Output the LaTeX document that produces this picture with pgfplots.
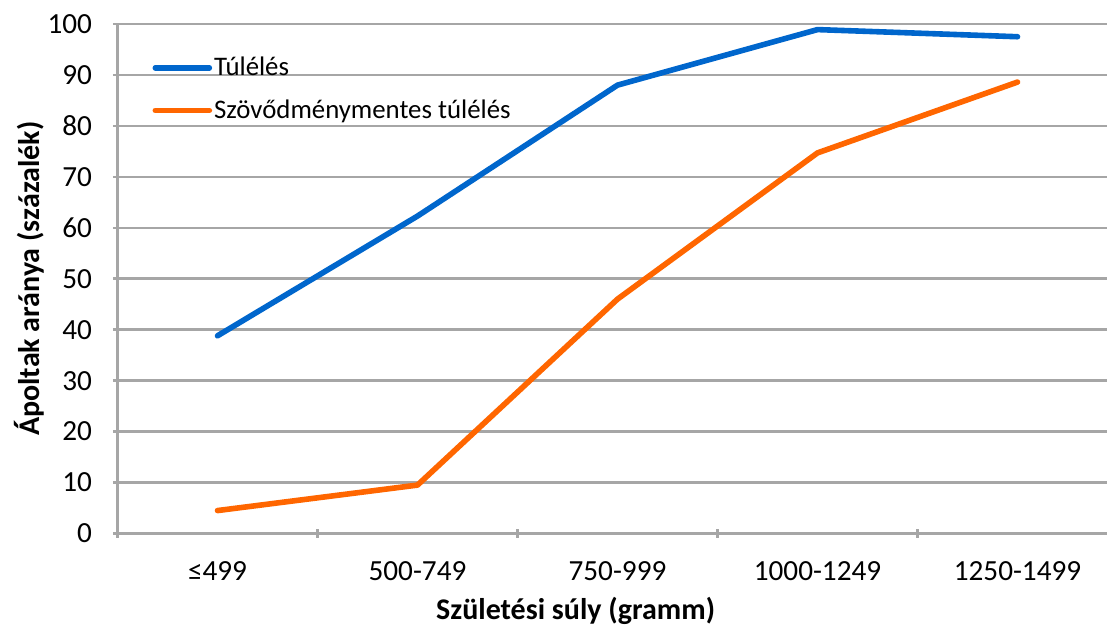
\documentclass[border=0pt]{standalone}
\usepackage{pgfplots}
\pgfplotsset{compat=1.18}
\usepackage{fontspec}
\setmainfont{Carlito}
\definecolor{cblue}{RGB}{0,102,204}
\definecolor{corange}{RGB}{255,102,0}
\definecolor{cgrid}{RGB}{166,166,166}
\begin{document}
\begin{tikzpicture}
\begin{axis}[
  scale only axis, width=494.75pt, height=254.75pt,
  at={(0,0)}, anchor=south west,
  xmin=-0.5, xmax=4.4475, ymin=0, ymax=100,
  clip=false,
  ytick={0,10,...,100},
  xtick={0,...,4},
  xticklabels={≤499,500-749,750-999,1000-1249,1250-1499},
  minor xtick={-0.5,0.5,1.5,2.5,3.5},
  major x tick style={draw=none},
  minor x tick style={draw=cgrid, line width=1.25pt},
  major y tick style={draw=cgrid, line width=1.25pt},
  major tick length=4.5pt, minor tick length=4.5pt,
  tick align=outside,
  axis lines=left,
  axis line style={cgrid, line width=1.25pt, -},
  ymajorgrids, major grid style={cgrid, line width=1.25pt},
  /pgf/number format/assume math mode=true,
  tick label style={font=\fontsize{14.6}{17}\selectfont, black},
  yticklabel style={xshift=-7pt},
  xticklabel style={yshift=-8pt},
  xlabel={Születési súly (gramm)},
  ylabel={Ápoltak aránya (százalék)},
  label style={font=\fontsize{15}{18}\selectfont\bfseries},
  x label style={at={(axis description cs:0.463,0)}, anchor=base, yshift=-43pt},
  y label style={at={(axis description cs:0,0.5)}, anchor=base, yshift=38.75pt},
  legend style={at={(axis description cs:0.035,0.94)}, anchor=north west, draw=none, fill=none,
    font=\fontsize{13.4}{16}\selectfont, inner sep=0pt, row sep=8.5pt,
    nodes={inner sep=1pt}},
  legend cell align=left,
  legend image code/.code={\draw[#1, line width=2.8pt, line cap=round] (0pt,0pt) -- (27pt,0pt);},
]
\addplot[cblue, line width=2.8pt, line cap=round, line join=round] coordinates {
  (0,38.8) (1,62.3) (2,88.0) (3,98.9) (4,97.5)};
\addlegendentry{Túlélés}
\addplot[corange, line width=2.8pt, line cap=round, line join=round] coordinates {
  (0,4.5) (1,9.5) (2,46.0) (3,74.7) (4,88.6)};
\addlegendentry{Szövődménymentes túlélés}
\end{axis}
\pgfresetboundingbox
\path[use as bounding box] (-58.75pt,-45.75pt) rectangle (494.75pt,266.75pt);
\end{tikzpicture}
\end{document}
